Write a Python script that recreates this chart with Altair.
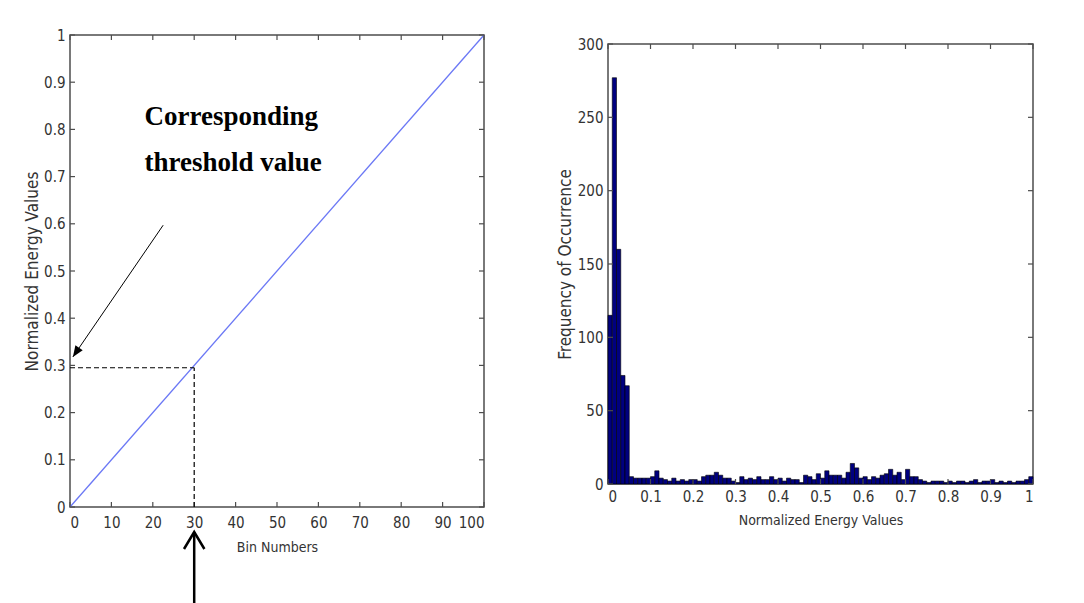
import altair as alt
import pandas as pd

# ---------------- data ----------------
# left panel: normalized energy vs bin number
bin_numbers = [0, 100]
energy_values = [0.0, 1.0]
left_x_ticks = [0, 10, 20, 30, 40, 50, 60, 70, 80, 90, 100]
left_y_ticks = [0, 0.1, 0.2, 0.3, 0.4, 0.5, 0.6, 0.7, 0.8, 0.9, 1.0]
threshold_bin = 30
threshold_value = 0.295
annot_text = ["Corresponding", "threshold value"]
annot_x = [18.0, 18.0]
annot_y = [0.826, 0.729]
diag_arrow_x = [22.5, 0.7]
diag_arrow_y = [0.597, 0.318]
bottom_arrow_y = [-0.053, -0.21]

# right panel: histogram of normalized energy values (100 bins on [0, 1])
hist_counts = [
    115, 277, 160, 74, 67, 5, 4, 4, 4, 4,
    5, 9, 4, 3, 2, 4, 2, 3, 2, 3,
    3, 2, 5, 6, 6, 8, 6, 4, 4, 2,
    1, 5, 3, 4, 3, 5, 3, 3, 5, 3,
    4, 2, 4, 3, 3, 1, 6, 5, 3, 7,
    4, 9, 6, 6, 6, 4, 8, 14, 11, 4,
    5, 3, 5, 4, 6, 7, 10, 6, 8, 3,
    10, 5, 5, 3, 2, 1, 2, 2, 2, 1,
    2, 1, 2, 2, 1, 2, 3, 1, 2, 2,
    3, 1, 2, 1, 2, 1, 2, 2, 3, 5,
]
right_x_ticks = [0, 0.1, 0.2, 0.3, 0.4, 0.5, 0.6, 0.7, 0.8, 0.9, 1.0]
right_y_ticks = [0, 50, 100, 150, 200, 250, 300]

# ---------------- style ----------------
FONT = "DejaVu Sans Condensed, Liberation Sans Narrow, sans-serif"
AX = "#4d4d4d"
TXT = "#333333"
LW, LH = 414, 472
RW, RH = 425, 440
TICK = 5

def axis(values, fmt, title, lsize, tsize, lpad, tpad):
    return alt.Axis(values=values, format=fmt, title=title, grid=False, domain=False,
                    ticks=False, labelFont=FONT, labelFontSize=lsize, labelColor=TXT,
                    titleFont=FONT, titleFontSize=tsize, titleFontWeight="normal",
                    titleColor=TXT, labelPadding=lpad, titlePadding=tpad)

# ---------------- left panel ----------------
lx = alt.Scale(domain=[0, 100], nice=False, zero=False)
ly = alt.Scale(domain=[0, 1], nice=False, zero=False)
LXA = axis(left_x_ticks, "d", "Bin Numbers", 15, 14, 8, 10)
LYA = axis(left_y_ticks, ".1~f", "Normalized Energy Values", 15, 17, 5, 2)

def LX(f):
    return alt.X(f, scale=lx, axis=LXA)

def LY(f):
    return alt.Y(f, scale=ly, axis=LYA)

line_df = pd.DataFrame({"bin": bin_numbers, "energy": energy_values})
left_line = alt.Chart(line_df).mark_line(color="#6b78f5", strokeWidth=1.3).encode(
    x=LX("bin:Q"), y=LY("energy:Q"))

lxt = pd.DataFrame({"v": left_x_ticks})
lyt = pd.DataFrame({"v": left_y_ticks})
left_ticks = [
    alt.Chart(lxt).mark_rule(color=AX, strokeWidth=1.2).encode(
        x=LX("v:Q"), y=alt.value(LH), y2=alt.value(LH - TICK)),
    alt.Chart(lxt).mark_rule(color=AX, strokeWidth=1.2).encode(
        x=LX("v:Q"), y=alt.value(0), y2=alt.value(TICK)),
    alt.Chart(lyt).mark_rule(color=AX, strokeWidth=1.2).encode(
        y=LY("v:Q"), x=alt.value(0), x2=alt.value(TICK)),
    alt.Chart(lyt).mark_rule(color=AX, strokeWidth=1.2).encode(
        y=LY("v:Q"), x=alt.value(LW), x2=alt.value(LW - TICK)),
]

h_dash = alt.Chart(pd.DataFrame({"x0": [0], "x1": [threshold_bin], "y": [threshold_value]})).mark_rule(
    color="black", strokeDash=[5, 3], strokeWidth=1.2).encode(
    x=LX("x0:Q"), x2="x1:Q", y=LY("y:Q"))
v_dash = alt.Chart(pd.DataFrame({"x": [threshold_bin], "y0": [0], "y1": [threshold_value]})).mark_rule(
    color="black", strokeDash=[5, 3], strokeWidth=1.2).encode(
    x=LX("x:Q"), y=LY("y0:Q"), y2="y1:Q")

annot = alt.Chart(pd.DataFrame({"t": annot_text, "x": annot_x, "y": annot_y})).mark_text(
    font="Liberation Serif", fontWeight="bold", fontSize=27, color="black",
    align="left", baseline="middle").encode(
    x=LX("x:Q"), y=LY("y:Q"), text="t:N")

diag = alt.Chart(pd.DataFrame({"x0": [diag_arrow_x[0]], "x1": [diag_arrow_x[1]],
                               "y0": [diag_arrow_y[0]], "y1": [diag_arrow_y[1]]})).mark_rule(
    color="black", strokeWidth=1).encode(
    x=LX("x0:Q"), x2="x1:Q", y=LY("y0:Q"), y2="y1:Q")
diag_head = alt.Chart(pd.DataFrame({"x": [diag_arrow_x[1]], "y": [diag_arrow_y[1]]})).mark_point(
    shape="M0,0L-0.4,1L0.4,1Z", filled=True, color="black", size=484, angle=214, opacity=1).encode(
    x=LX("x:Q"), y=LY("y:Q"))

bottom = alt.Chart(pd.DataFrame({"x": [threshold_bin], "y0": [bottom_arrow_y[0]], "y1": [bottom_arrow_y[1]]})).mark_rule(
    color="black", strokeWidth=2.5).encode(
    x=LX("x:Q"), y=LY("y0:Q"), y2="y1:Q")
bottom_head = alt.Chart(pd.DataFrame({"x": [threshold_bin], "y": [bottom_arrow_y[0]]})).mark_point(
    shape="M-0.6,1L0,0L0.6,1", filled=False, color="black", strokeWidth=2.5, size=1156, opacity=1).encode(
    x=LX("x:Q"), y=LY("y:Q"))

left_spacer = alt.Chart(pd.DataFrame({"a": [0]})).mark_rule(color="white", strokeWidth=1).encode(
    x=alt.value(0), x2=alt.value(1), y=alt.value(-20))

left = alt.layer(left_line, *left_ticks, h_dash, v_dash, annot, diag, diag_head,
                 bottom, bottom_head, left_spacer).properties(width=LW, height=LH)

# ---------------- right panel ----------------
rx = alt.Scale(domain=[0, 1], nice=False, zero=False)
ry = alt.Scale(domain=[0, 300], nice=False, zero=False)
RXA = axis(right_x_ticks, ".1~f", "Normalized Energy Values", 15, 14, 5, 9)
RYA = axis(right_y_ticks, "d", "Frequency of Occurrence", 15, 17, 5, 3)

def RX(f):
    return alt.X(f, scale=rx, axis=RXA)

def RY(f):
    return alt.Y(f, scale=ry, axis=RYA)

hist_df = pd.DataFrame({
    "lo": [i / 100 for i in range(len(hist_counts))],
    "hi": [(i + 1) / 100 for i in range(len(hist_counts))],
    "count": hist_counts,
})
bars = alt.Chart(hist_df).mark_rect(fill="#00007f", stroke="black", strokeWidth=0.6).encode(
    x=RX("lo:Q"), x2="hi:Q", y=RY("count:Q"), y2=alt.datum(0))
rxt = pd.DataFrame({"v": right_x_ticks})
ryt = pd.DataFrame({"v": right_y_ticks})
right_ticks = [
    alt.Chart(rxt).mark_rule(color=AX, strokeWidth=1.2).encode(
        x=RX("v:Q"), y=alt.value(RH), y2=alt.value(RH - TICK)),
    alt.Chart(rxt).mark_rule(color=AX, strokeWidth=1.2).encode(
        x=RX("v:Q"), y=alt.value(0), y2=alt.value(TICK)),
    alt.Chart(ryt).mark_rule(color=AX, strokeWidth=1.2).encode(
        y=RY("v:Q"), x=alt.value(0), x2=alt.value(TICK)),
    alt.Chart(ryt).mark_rule(color=AX, strokeWidth=1.2).encode(
        y=RY("v:Q"), x=alt.value(RW), x2=alt.value(RW - TICK)),
]
right_plot = alt.layer(bars, *right_ticks).properties(width=RW, height=RH)

# empty strip that pushes the histogram 9 px lower than the left panel
right_gap = alt.Chart(pd.DataFrame({"a": [0]})).mark_rule(color="white", opacity=0).encode(
    x=alt.value(0), x2=alt.value(1), y=alt.value(0)).properties(
    width=RW, height=9, view=alt.ViewBackground(stroke="transparent"))

right = alt.vconcat(right_gap, right_plot, spacing=0, bounds="flush")

chart = alt.hconcat(left, right, spacing=67).properties(
    padding={"left": 22, "top": 13, "right": 5, "bottom": 0},
    background="white",
).configure_view(stroke=AX, strokeWidth=1.5)

chart.save("out.html", embed_options={"renderer": "svg", "actions": False})
